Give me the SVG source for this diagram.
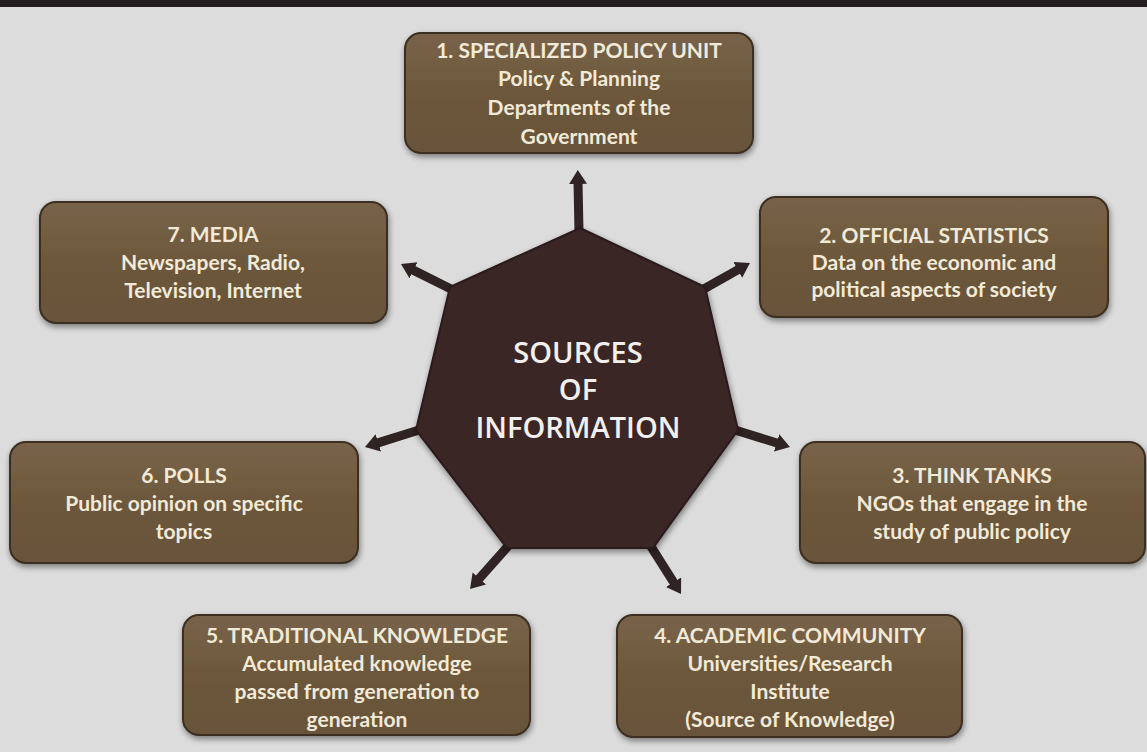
<svg xmlns="http://www.w3.org/2000/svg" width="1147" height="752" viewBox="0 0 1147 752">
<defs>
<linearGradient id="boxg" x1="0" y1="0" x2="0" y2="1">
<stop offset="0" stop-color="#78634a"/>
<stop offset="0.5" stop-color="#6d583b"/>
<stop offset="1" stop-color="#68533a"/>
</linearGradient>
<filter id="sh" x="-10%" y="-10%" width="120%" height="130%">
<feGaussianBlur in="SourceAlpha" stdDeviation="3"/>
<feOffset dx="1" dy="3" result="b"/>
<feComponentTransfer><feFuncA type="linear" slope="0.45"/></feComponentTransfer>
<feMerge><feMergeNode/><feMergeNode in="SourceGraphic"/></feMerge>
</filter>
<marker id="ah" markerUnits="userSpaceOnUse" markerWidth="16" markerHeight="20" viewBox="0 -10 16 20" refX="2" refY="0" orient="auto">
<path d="M0,-9 L14,0 L0,9 z" fill="#2f2323"/>
</marker>
</defs>
<style>
.box{fill:url(#boxg);stroke:#3c2f20;stroke-width:2;filter:url(#sh)}
.t{font-family:Lato,"Open Sans",sans-serif;font-weight:700;font-size:21px;fill:#f2ead8;text-anchor:middle}
.c{font-family:"Open Sans",Lato,sans-serif;font-weight:600;font-size:29px;fill:#f2f0ee;text-anchor:middle}
.arr{stroke:#2f2323;stroke-width:9;fill:none;marker-end:url(#ah)}
</style>
<rect x="0" y="0" width="1147" height="752" fill="#dcdcdc"/>
<rect x="0" y="0" width="1147" height="7" fill="#231f20"/>
<g id="connectors">
<line class="arr" x1="579" y1="232" x2="578" y2="182"/>
<line class="arr" x1="702" y1="290" x2="739.5" y2="268.9"/>
<line class="arr" x1="735" y1="430" x2="778.5" y2="443.5"/>
<line class="arr" x1="650" y1="545" x2="674.6" y2="583.9"/>
<line class="arr" x1="509" y1="545" x2="478" y2="580"/>
<line class="arr" x1="419" y1="430" x2="376.4" y2="443.4"/>
<line class="arr" x1="453" y1="290" x2="411.7" y2="269.4"/>
</g>
<g id="center">
<polygon points="580,228 705,287 738,430 653,548 507,548 416,430 450,287" fill="#3b2627" stroke="#2a1a1b" stroke-width="2" filter="url(#sh)"/>
<text class="c" x="578" y="363">SOURCES</text>
<text class="c" x="578" y="400">OF</text>
<text class="c" x="578" y="438">INFORMATION</text>
</g>
<g id="n1">
<rect class="box" x="405" y="33" width="348" height="120" rx="16"/>
<text class="t" x="579" y="58">1. SPECIALIZED POLICY UNIT</text>
<text class="t" x="579" y="86">Policy &amp; Planning</text>
<text class="t" x="579" y="115">Departments of the</text>
<text class="t" x="579" y="144">Government</text>
</g>
<g id="n2">
<rect class="box" x="760" y="197" width="348" height="120" rx="16"/>
<text class="t" x="934" y="243">2. OFFICIAL STATISTICS</text>
<text class="t" x="934" y="270">Data on the economic and</text>
<text class="t" x="934" y="297">political aspects of society</text>
</g>
<g id="n3">
<rect class="box" x="800" y="442" width="345" height="121" rx="16"/>
<text class="t" x="972" y="483">3. THINK TANKS</text>
<text class="t" x="972" y="511">NGOs that engage in the</text>
<text class="t" x="972" y="539">study of public policy</text>
</g>
<g id="n4">
<rect class="box" x="617" y="615" width="345" height="122" rx="16"/>
<text class="t" x="790" y="643">4. ACADEMIC COMMUNITY</text>
<text class="t" x="790" y="671">Universities/Research</text>
<text class="t" x="790" y="699">Institute</text>
<text class="t" x="790" y="727">(Source of Knowledge)</text>
</g>
<g id="n5">
<rect class="box" x="183" y="615" width="347" height="120" rx="16"/>
<text class="t" x="357" y="643">5. TRADITIONAL KNOWLEDGE</text>
<text class="t" x="357" y="671">Accumulated knowledge</text>
<text class="t" x="357" y="699">passed from generation to</text>
<text class="t" x="357" y="727">generation</text>
</g>
<g id="n6">
<rect class="box" x="10" y="442" width="348" height="121" rx="16"/>
<text class="t" x="184" y="483">6. POLLS</text>
<text class="t" x="184" y="511">Public opinion on specific</text>
<text class="t" x="184" y="539">topics</text>
</g>
<g id="n7">
<rect class="box" x="40" y="202" width="347" height="121" rx="16"/>
<text class="t" x="213" y="242">7. MEDIA</text>
<text class="t" x="213" y="270">Newspapers, Radio,</text>
<text class="t" x="213" y="298">Television, Internet</text>
</g>
</svg>
